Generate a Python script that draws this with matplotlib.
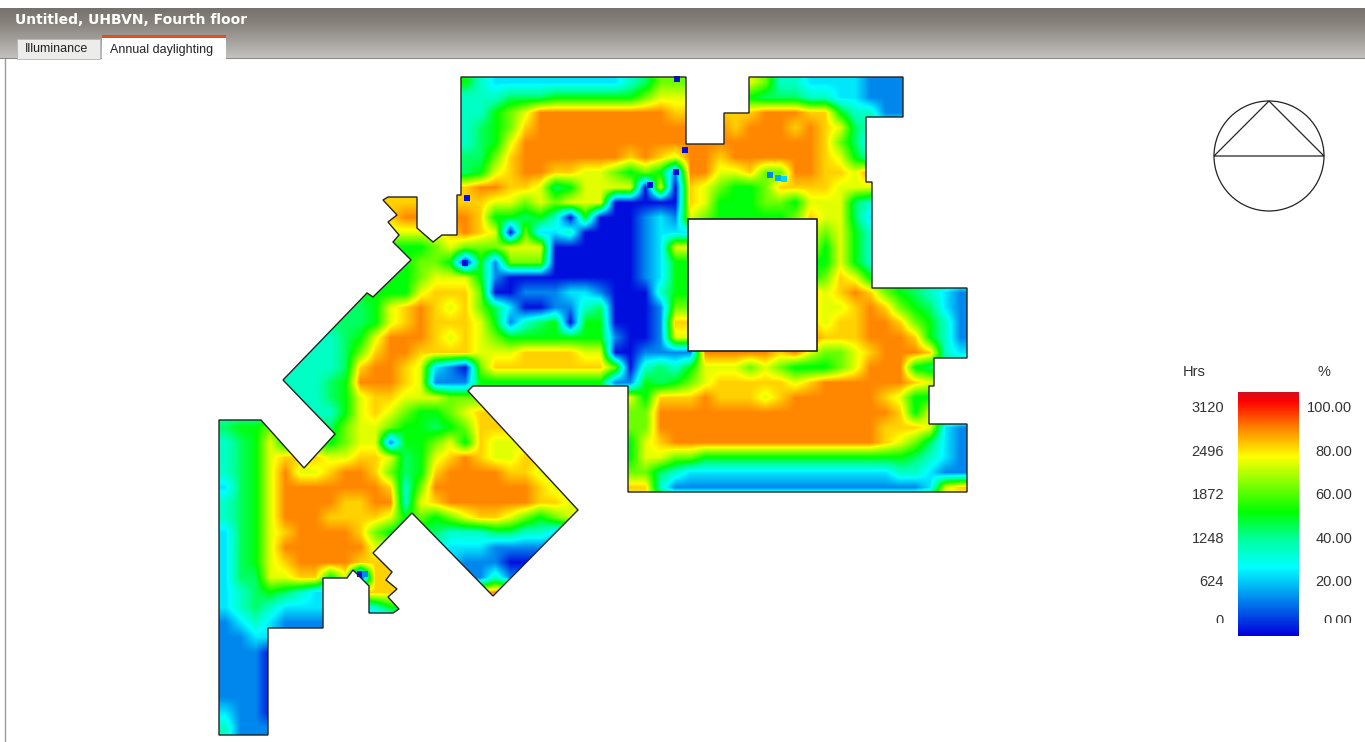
import numpy as np
import matplotlib
matplotlib.use("Agg")
import matplotlib.pyplot as plt
from matplotlib.colors import LinearSegmentedColormap
from matplotlib.patches import Polygon, Rectangle, Circle

plt.rcParams['font.family'] = ['Liberation Sans', 'DejaVu Sans']

title = "Untitled, UHBVN, Fourth floor"
tabs = ["Illuminance", "Annual daylighting"]
hrs_labels = ["3120", "2496", "1872", "1248", "624", "0"]
pct_labels = ["100.00", "80.00", "60.00", "40.00", "20.00", "0.00"]

# daylight level read per 15 px cell of the plan, 0 = deep blue ... 9 = orange
level_pct = np.array([-5, 10, 22, 33, 43, 50, 62, 74, 82, 90])
daylight_rows = [
    "33333 33333 33333 55322 22222 22346 66677 76332 22211 11111",
    "33333 33333 33333 33334 44555 55567 77765 54443 32211 11111",
    "33333 33333 33333 33356 79999 99999 88888 89998 85331 11111",
    "33333 33333 33333 33456 89999 99999 99998 99989 87433 33333",
    "33333 33333 33333 33457 99999 99999 99999 99999 86422 22222",
    "44444 44444 44444 44468 99999 99898 79989 99999 87533 33333",
    "44444 44444 44444 44578 99887 76565 19977 86699 88799 77777",
    "88888 88888 88888 88998 87457 77707 08765 56888 87777 77777",
    "55555 55555 88888 88877 67677 70000 08755 56657 77433 33333",
    "55555 55555 88999 99855 45305 00012 17655 55568 77422 22222",
    "55555 55555 77777 89870 62230 00012 22222 77777 67533 33333",
    "55555 55555 55556 76667 77000 00012 77777 77777 57533 33333",
    "55555 55555 55566 50516 66000 00012 55555 55555 57533 33333",
    "55555 55555 55567 77510 00000 00012 55555 55555 68755 55555",
    "55555 55555 55578 88600 11122 10003 55888 88888 78986 54321",
    "44444 44444 57898 78642 00113 40001 66888 88888 77898 65421",
    "44444 44444 57898 88751 34505 50001 88888 88888 78899 86531",
    "33333 33345 79998 78765 55555 51001 77999 99999 88899 98531",
    "33333 33346 89988 88777 88887 70011 11999 99897 66789 99832",
    "33333 33348 99872 10688 88888 86034 35777 67655 56799 95444",
    "33333 33459 99871 11555 55555 51154 56788 88878 99999 98777",
    "33333 33457 88777 66666 66666 66758 88988 87899 99998 75555",
    "33333 33357 87655 67888 88888 88669 99999 99999 99999 85777",
    "45566 55467 76554 56888 88888 88669 99999 99999 99998 88721",
    "34575 55567 71556 75877 77777 77578 99999 99999 99998 76421",
    "34578 88778 87457 89877 88888 87577 66555 55555 55555 54321",
    "34579 77899 86458 99998 87777 77664 32222 22222 22222 33211",
    "24579 99999 98369 99999 98777 77883 11111 11111 11111 11278",
    "34579 99988 99378 99999 98877 77777 77777 77777 77777 77777",
    "34579 99888 87565 67887 65677 77777 77777 77777 77777 77777",
    "24578 99998 65444 33344 33222 22222 22222 22222 22222 22222",
    "24579 99999 77733 22211 11111 11111 11111 11111 11111 11111",
    "24578 99998 88822 21110 00011 11111 11111 11111 11111 11111",
    "24477 88570 88811 11131 11111 11111 11111 11111 11111 11111",
    "23454 32228 88888 88899 11111 11111 11111 11111 11111 11111",
    "23432 22222 35555 55555 11111 11111 11111 11111 11111 11111",
    "12321 11111 11111 11111 11111 11111 11111 11111 11111 11111",
    "11221 11111 11111 11111 11111 11111 11111 11111 11111 11111",
    "11100 11111 11111 11111 11111 11111 11111 11111 11111 11111",
    "11100 11111 11111 11111 11111 11111 11111 11111 11111 11111",
    "11100 11111 11111 11111 11111 11111 11111 11111 11111 11111",
    "11100 11111 11111 11111 11111 11111 11111 11111 11111 11111",
    "21100 11111 11111 11111 11111 11111 11111 11111 11111 11111",
    "31111 11111 11111 11111 11111 11111 11111 11111 11111 11111",
    "31111 11111 11111 11111 11111 11111 11111 11111 11111 11111",
]

# small blue cells that are finer than the grid above
spot_x = [677, 685, 467, 465, 650, 676, 360, 365, 770, 778, 784]
spot_y = [79, 150, 198, 263, 185, 172, 574, 574, 175, 178, 179]
spot_pct = [-5, -5, -5, -5, -5, -5, -5, 10, 10, 15, 20]

plan_outline = [
    (462, 77), (686, 77), (686, 144), (724, 144), (724, 113), (749, 113), (749, 77),
    (903, 77), (903, 117), (866, 117), (866, 182), (872, 182), (872, 288), (967, 288),
    (967, 358), (934, 358), (934, 386), (929, 386), (929, 424), (967, 424), (967, 492),
    (628, 492), (628, 386), (473, 386), (468, 391), (578, 510), (493, 596), (412, 513),
    (373, 553), (392, 572), (386, 580), (397, 589), (388, 597), (399, 609), (393, 613),
    (369, 613), (369, 586), (353, 570), (347, 578), (323, 578), (323, 628), (268, 628),
    (268, 735), (219, 735), (219, 420), (261, 420), (304, 468), (335, 434), (283, 380),
    (367, 293), (373, 297), (411, 260), (393, 242), (399, 235), (388, 222), (397, 215),
    (383, 200), (388, 197), (417, 197), (417, 228), (433, 242), (442, 235), (457, 235),
    (457, 195), (461, 195), (461, 77),
]

cmap_pct = [-7, 25, 38, 51, 77, 90, 103, 107]
cmap_colors = ["#0000dc", "#00ffff", "#00ffa0", "#00ff00", "#ffff00", "#ff8800", "#ff0000", "#d01020"]

fig = plt.figure(figsize=(13.65, 7.42), dpi=100)
ax = fig.add_axes([0, 0, 1, 1])
ax.set_xlim(0, 1365)
ax.set_ylim(742, 0)
ax.axis("off")

span = cmap_pct[-1] - cmap_pct[0]
stops = [(p - cmap_pct[0]) / span for p in cmap_pct]
cmap = LinearSegmentedColormap.from_list("daylight", list(zip(stops, cmap_colors)), N=512)

# window chrome
header = np.linspace(0, 1, 50).reshape(-1, 1)
header_cmap = LinearSegmentedColormap.from_list("hdr", ["#77716b", "#8a857f", "#a5a29e", "#c2c1bd"])
ax.imshow(header, cmap=header_cmap, extent=(0, 1365, 58, 8), aspect="auto", zorder=1)
ax.plot([5, 5], [58, 742], color="#9a9a9a", lw=1.0, zorder=1)
ax.plot([0, 1365], [58, 58], color="#8c8c8c", lw=0.8, zorder=1)
ax.text(15, 20, title, color="white", fontsize=10, fontweight="bold", family="DejaVu Sans",
        va="center", ha="left", zorder=3)
ax.add_patch(Rectangle((17, 39), 83, 20, fc="#ececea", ec="#b5b5b5", lw=0.6, zorder=2))
ax.add_patch(Rectangle((102, 36), 124, 23, fc="white", ec="none", zorder=2))
ax.add_patch(Rectangle((102, 35), 124, 2.5, fc="#e0501c", ec="none", zorder=3))
ax.text(56, 49.5, tabs[0], color="#222222", fontsize=9, ha="center", va="center", zorder=3)
ax.text(161.5, 49.5, tabs[1], color="#222222", fontsize=9, ha="center", va="center", zorder=3)

# daylight map clipped to the floor plan
grid = np.array([[level_pct[int(ch)] for ch in row.replace(" ", "")] for row in daylight_rows], dtype=float)
im = ax.imshow(grid, cmap=cmap, vmin=cmap_pct[0], vmax=cmap_pct[-1], extent=(218, 968, 750, 75),
               aspect="auto", interpolation="bilinear", zorder=2)
outline = Polygon(plan_outline, closed=True, fc="none", ec="#222222", lw=1.0, joinstyle="miter", zorder=5)
ax.add_patch(outline)
im.set_clip_path(outline)
ax.scatter(spot_x, spot_y, s=18, marker="s", c=spot_pct, cmap=cmap, vmin=cmap_pct[0],
           vmax=cmap_pct[-1], linewidths=0, zorder=4)
ax.add_patch(Rectangle((688, 219), 129, 132, fc="white", ec="#222222", lw=1.2, zorder=5))

# north arrow
ax.add_patch(Circle((1269, 156), 55, fc="none", ec="#222222", lw=0.9, zorder=3))
ax.add_patch(Polygon([(1269, 101), (1214, 156), (1324, 156)], closed=True, fc="none", ec="#222222", lw=0.9, zorder=3))

# legend
gradient = np.linspace(cmap_pct[-1], cmap_pct[0], 244).reshape(-1, 1)
ax.imshow(gradient, cmap=cmap, vmin=cmap_pct[0], vmax=cmap_pct[-1], extent=(1238, 1299, 636, 392),
          aspect="auto", zorder=2)
ax.set_xlim(0, 1365)
ax.set_ylim(742, 0)
ax.text(1194, 372, "Hrs", color="#333333", fontsize=10.5, ha="center", va="center")
ax.text(1324, 372, "%", color="#333333", fontsize=10.5, ha="center", va="center")
label_y = [408, 452, 495, 539, 582, 621]
clip = Rectangle((1170, 380), 190, 243, transform=ax.transData)
for hrs, pct, y in zip(hrs_labels, pct_labels, label_y):
    t1 = ax.text(1224, y, hrs, color="#333333", fontsize=10.5, ha="right", va="center")
    t2 = ax.text(1352, y, pct, color="#333333", fontsize=10.5, ha="right", va="center")
    t1.set_clip_path(clip)
    t2.set_clip_path(clip)
    t1.set_clip_on(True)
    t2.set_clip_on(True)

fig.savefig("out.png", dpi=100)
